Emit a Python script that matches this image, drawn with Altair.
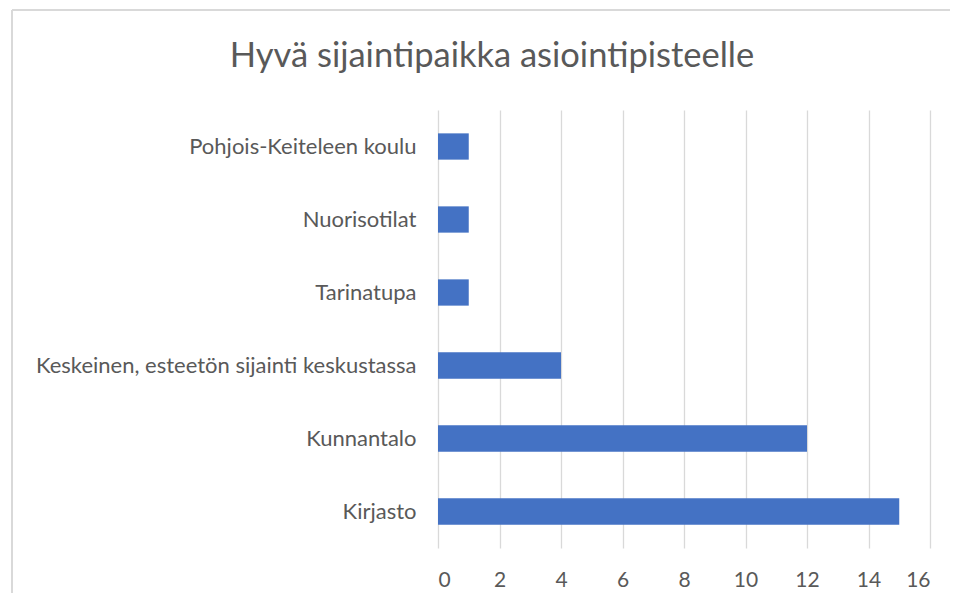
import altair as alt
import pandas as pd

categories = [
    "Pohjois-Keiteleen koulu",
    "Nuorisotilat",
    "Tarinatupa",
    "Keskeinen, esteetön sijainti keskustassa",
    "Kunnantalo",
    "Kirjasto",
]
values = [1, 1, 1, 4, 12, 15]
x_ticks = [0, 2, 4, 6, 8, 10, 12, 14, 16]
title_text = "Hyvä sijaintipaikka asiointipisteelle"

df = pd.DataFrame({"paikka": categories, "maara": values})
title_df = pd.DataFrame({"t": [title_text]})

FONT = "Lato"
GREY = "#595959"

bars = alt.Chart(df).mark_bar(color="#4472C4").encode(
    x=alt.X(
        "maara:Q",
        scale=alt.Scale(domain=[0, 16], nice=False),
        axis=alt.Axis(
            values=x_ticks, title=None, domain=False, ticks=False,
            grid=True, gridColor="#d9d9d9", gridWidth=1.3,
            labelPadding=21, labelFontSize=21, labelColor=GREY, labelFont=FONT,
        ),
    ),
    y=alt.Y(
        "paikka:N",
        sort=categories,
        scale=alt.Scale(paddingInner=0.64, paddingOuter=0.32),
        axis=alt.Axis(
            title=None, domain=False, ticks=False, grid=False,
            labelPadding=22, labelFontSize=22, labelColor=GREY, labelFont=FONT,
            labelLimit=500,
        ),
    ),
)

border_left = alt.Chart(df).mark_rule(color="#d9d9d9", strokeWidth=2).encode(
    x=alt.value(-426), y=alt.value(-100), y2=alt.value(520)
)
border_top = alt.Chart(df).mark_rule(color="#d9d9d9", strokeWidth=2).encode(
    x=alt.value(-426), x2=alt.value(560), y=alt.value(-100)
)
title = alt.Chart(title_df).mark_text(
    font=FONT, fontSize=34.5, color=GREY, align="center", baseline="middle"
).encode(text="t:N", x=alt.value(54), y=alt.value(-53))

chart = (
    alt.layer(border_left, border_top, title, bars)
    .properties(
        width=492,
        height=438,
        autosize=alt.AutoSizeParams(type="none"),
        padding={"left": 430, "top": 102, "right": 20, "bottom": 45},
    )
    .configure_view(stroke=None)
)

chart.save("out.html", embed_options={"renderer": "svg", "actions": False})
